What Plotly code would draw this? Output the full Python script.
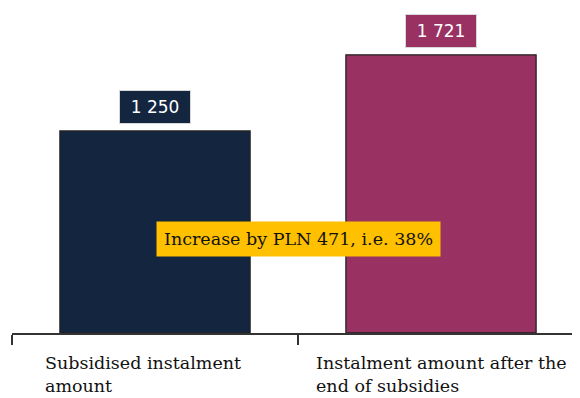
import plotly.graph_objs as go

# Dane
categories = ['Subsidised instalment<br>amount', 'Instalment amount after the<br>end of subsidies']
values = [1250, 1721]
value_labels = ['1 250', '1 721']
bar_colors = ['#13253f', '#993263']
increase_text = 'Increase by PLN 471, i.e. 38%'
increase_y = 582

# linke Kante der Kategorie-Texte (in Achseneinheiten relativ zur Kategorie)
label_offsets = [-0.39, -0.444]

fig = go.Figure()

fig.add_trace(
    go.Bar(
        x=[0, 1],
        y=values,
        width=0.665,
        marker=dict(color=bar_colors, line=dict(color='#222222', width=1.3)),
        hoverinfo='skip',
        showlegend=False
    )
)

# Wertelabels über den Balken
for i, (v, lab) in enumerate(zip(values, value_labels)):
    fig.add_annotation(
        x=i, y=v, yanchor='bottom', yshift=7,
        text=lab, showarrow=False,
        width=58, height=20,
        font=dict(family='DejaVu Sans', size=17, color='white'),
        bgcolor=bar_colors[i], bordercolor='#d8d8d8', borderwidth=1, borderpad=6
    )

# Kategorie-Beschriftungen (linksbündig)
for i, cat in enumerate(categories):
    fig.add_annotation(
        x=i + label_offsets[i], y=0, xref='x', yref='y',
        xanchor='left', yanchor='top', yshift=-18, align='left',
        text=cat, showarrow=False,
        font=dict(family='DejaVu Serif', size=17.5, color='#111111')
    )

# Anstieg
fig.add_annotation(
    x=0.5, y=increase_y, text=increase_text, showarrow=False,
    font=dict(family='DejaVu Serif', size=17.5, color='#111111'),
    bgcolor='#ffc000', borderpad=7
)

fig.update_layout(
    width=572, height=390,
    margin=dict(l=4, r=0, t=0, b=65),
    paper_bgcolor='white', plot_bgcolor='white',
    xaxis=dict(
        range=[-0.5, 1.486], showgrid=False, zeroline=False,
        showline=True, linecolor='#333333', linewidth=1.5,
        tickmode='array', tickvals=[-0.5, 0.5], ticks='outside',
        ticklen=10, tickwidth=1.5, tickcolor='#333333', showticklabels=False
    ),
    yaxis=dict(range=[0, 2011], visible=False)
)

fig.write_html("out.html")
